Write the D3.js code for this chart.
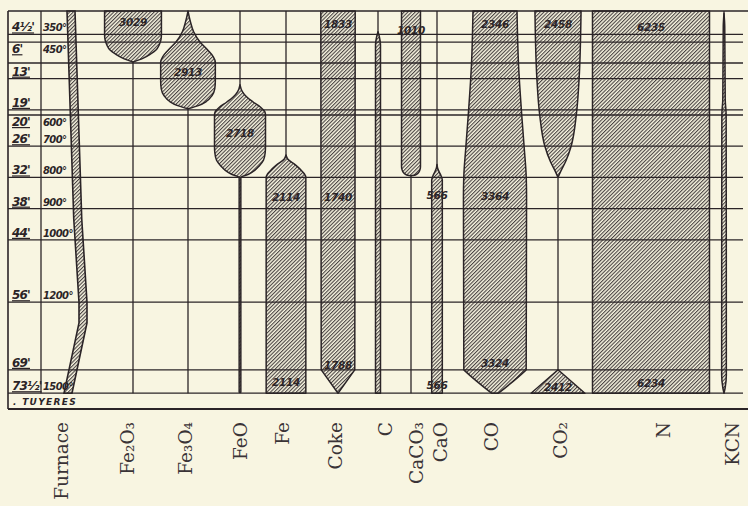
<!DOCTYPE html>
<html>
<head>
<meta charset="utf-8">
<script src="https://cdn.jsdelivr.net/npm/d3@7"></script>
<style>
  body { margin: 0; background: #f8f5e1; }
  svg { display: block; }
</style>
</head>
<body>
<svg id="chart" width="748" height="506"></svg>
<script>
// depth below the stock line (feet) and the temperatures written beside it
var depthTicks = [4.5, 6, 10, 13, 19, 20, 26, 32, 38, 44, 56, 69, 73.5];
var depthText  = ["4½'", "6'", "", "13'", "19'", "20'", "26'", "32'", "38'", "44'", "56'", "69'", "73½'"];
var tempText   = ["350°", "450°", "", "", "", "600°", "700°", "800°", "900°", "1000°", "1200°", "", "1500°"];

// column names along the bottom
var names = ["Furnace", "Fe₂O₃", "Fe₃O₄", "FeO", "Fe", "Coke", "C", "CaCO₃", "CaO", "CO", "CO₂", "N", "KCN"];

// furnace lining: [depth, diameter ft]
var furnace = [[0, 14], [40, 18.5], [56, 22], [60, 22], [73.5, 12]];

// weight of each substance along the depth: [depth, lbs]
var fe2o3 = [[0, 3029], [4.5, 3029], [5.5, 2980], [6.5, 2800], [7.5, 2450], [8.3, 1850], [9.1, 1050], [9.8, 0]];
var fe3o4 = [[0, 0], [2, 250], [4, 600], [6, 1300], [7.5, 2100], [8.8, 2700], [9.8, 2913], [13.5, 2913], [15, 2850], [16.3, 2550], [17.4, 1950], [18.2, 1100], [18.8, 0]];
var feo   = [[14.2, 0], [15.5, 250], [16.5, 700], [17.5, 1400], [18.5, 2200], [19.4, 2650], [20, 2718], [26, 2718], [27.3, 2680], [28.7, 2500], [29.8, 2050], [30.6, 1600], [31.4, 900], [32, 90], [73.3, 90]];
var fe    = [[27.7, 0], [28.5, 200], [29.6, 1000], [30.5, 1550], [31.3, 1950], [32, 2114], [73.5, 2114]];
var coke  = [[0, 1833], [69, 1788], [69.3, 1670], [73.5, 0]];
var carbon = [[4, 0], [5, 150], [6.5, 265], [73.5, 265]];
var caco3 = [[0, 1010], [29.9, 1010], [30.5, 960], [31, 830], [31.4, 590], [31.6, 350], [31.7, 0]];
var cao   = [[29.5, 0], [30.3, 80], [31, 250], [31.8, 450], [32.5, 566], [73.5, 566]];
var co    = [[0, 2346], [10, 2500], [20, 2850], [26, 3100], [32, 3330], [36, 3364], [69, 3324], [69.3, 3150], [73.5, 370]];
var co2   = [[0, 2458], [13, 2250], [20, 1950], [26, 1400], [29, 800], [30.8, 300], [32, 0]];
var co2Hearth = [[69, 0], [73.5, 2870]];
var nitrogen = [[0, 6235], [73.5, 6234]];
var kcn   = [[0.5, 0], [3, 80], [17, 130], [20, 230], [70, 250], [72.5, 120], [73.5, 0]];

// figures written inside the bands: [column, depth, value]
var figures = [
  ["Fe₂O₃", 2.1, "3029"], ["Fe₃O₄", 11.7, "2913"], ["FeO", 23.5, "2718"],
  ["Fe", 35.8, "2114"], ["Fe", 71.3, "2114"],
  ["Coke", 2.5, "1833"], ["Coke", 35.8, "1740"], ["Coke", 68.1, "1788"],
  ["CaCO₃", 3.6, "1010"], ["CaO", 35.4, "566"], ["CaO", 71.9, "566"],
  ["CO", 2.5, "2346"], ["CO", 35.6, "3364"], ["CO", 67.7, "3324"],
  ["CO₂", 2.5, "2458"], ["CO₂", 72.3, "2412"],
  ["N", 3.1, "6235"], ["N", 71.5, "6234"]
];

var ink = "#2b2427", paper = "#f8f5e1";

var svg = d3.select("#chart");
svg.append("rect").attr("width", 748).attr("height", 506).attr("fill", paper);

var y = d3.scaleLinear().domain([0, 73.5]).range([11, 393.2]);
var w = d3.scaleLinear().domain([0, 6235]).range([0, 117]);
var fx = d3.scaleLinear().domain([0, 22]).range([50, 83]);

// centre of each column
var colX = {"Fe₂O₃": 133, "Fe₃O₄": 188, "FeO": 240, "Fe": 286, "Coke": 338, "C": 378, "CaCO₃": 411,
  "CaO": 437, "CO": 495, "CO₂": 558, "N": 651, "KCN": 724};
// where the names are written
var labelX = {"Furnace": 62, "Fe₂O₃": 128, "Fe₃O₄": 186, "FeO": 241, "Fe": 283, "Coke": 336, "C": 386,
  "CaCO₃": 417, "CaO": 441, "CO": 492, "CO₂": 561, "N": 664, "KCN": 733};

var bands = [
  ["Fe₂O₃", fe2o3], ["Fe₃O₄", fe3o4], ["FeO", feo], ["Fe", fe], ["Coke", coke], ["C", carbon],
  ["CaCO₃", caco3], ["CaO", cao], ["CO", co], ["CO₂", co2], ["CO₂", co2Hearth], ["N", nitrogen], ["KCN", kcn]
];

var defs = svg.append("defs");
var pat = defs.append("pattern")
  .attr("id", "hatch")
  .attr("patternUnits", "userSpaceOnUse")
  .attr("width", 2.6).attr("height", 10)
  .attr("patternTransform", "rotate(45)");
pat.append("rect").attr("width", 2.6).attr("height", 10).attr("fill", paper);
pat.append("line").attr("x1", 0.6).attr("x2", 0.6).attr("y1", 0).attr("y2", 10)
  .attr("stroke", ink).attr("stroke-width", 0.95);

// centre lines of every column (they show where the band is empty)
svg.append("g").selectAll("line")
  .data(Object.keys(colX))
  .enter().append("line")
  .attr("x1", function(d) { return colX[d]; })
  .attr("x2", function(d) { return colX[d]; })
  .attr("y1", y(0)).attr("y2", y(73.5))
  .attr("stroke", ink).attr("stroke-width", 1.3);

// bands
var gb = svg.append("g");
bands.forEach(function(b) {
  var cx = colX[b[0]];
  var area = d3.area()
    .curve(d3.curveMonotoneY)
    .y(function(d) { return y(d[0]); })
    .x0(function(d) { return cx - w(d[1]) / 2; })
    .x1(function(d) { return cx + w(d[1]) / 2; });
  gb.append("path")
    .attr("d", area(b[1]))
    .attr("fill", "url(#hatch)")
    .attr("stroke", ink)
    .attr("stroke-width", 1.5)
    .attr("stroke-linejoin", "round");
});

// furnace lining
var lining = d3.area()
  .y(function(d) { return y(d[0]); })
  .x0(function(d) { return fx(d[1]) - 4; })
  .x1(function(d) { return fx(d[1]) + 4; });
svg.append("path")
  .attr("d", lining(furnace))
  .attr("fill", "url(#hatch)")
  .attr("stroke", ink)
  .attr("stroke-width", 1.6);

// horizontal rules
svg.append("g").selectAll("line")
  .data(depthTicks)
  .enter().append("line")
  .attr("x1", 8).attr("x2", 743)
  .attr("y1", function(d) { return y(d); })
  .attr("y2", function(d) { return y(d); })
  .attr("stroke", ink).attr("stroke-width", 1.3);

// frame
svg.append("line").attr("x1", 8).attr("x2", 748).attr("y1", y(0)).attr("y2", y(0))
  .attr("stroke", ink).attr("stroke-width", 1.6);
svg.append("line").attr("x1", 8).attr("x2", 8).attr("y1", y(0)).attr("y2", 409)
  .attr("stroke", ink).attr("stroke-width", 1.6);
svg.append("line").attr("x1", 41).attr("x2", 41).attr("y1", y(0)).attr("y2", y(73.5))
  .attr("stroke", ink).attr("stroke-width", 1.3);
svg.append("line").attr("x1", 8).attr("x2", 748).attr("y1", 409).attr("y2", 409)
  .attr("stroke", ink).attr("stroke-width", 2);

// depth and temperature labels
function labelY(i) {
  var yy = y(depthTicks[i]);
  if (i > 0 && yy - y(depthTicks[i - 1]) < 9) return yy + 11;
  return yy - 3;
}
svg.append("g").selectAll("text")
  .data(depthText)
  .enter().append("text")
  .attr("x", 12)
  .attr("y", function(d, i) { return labelY(i); })
  .attr("font-family", "DejaVu Sans")
  .attr("font-weight", "bold").attr("font-style", "italic")
  .attr("font-size", 12)
  .attr("letter-spacing", -0.8)
  .attr("text-decoration", "underline")
  .attr("fill", ink)
  .text(function(d) { return d; });

svg.append("g").selectAll("text")
  .data(tempText)
  .enter().append("text")
  .attr("x", 43)
  .attr("y", function(d, i) { return labelY(i); })
  .attr("font-family", "DejaVu Sans")
  .attr("font-weight", "bold").attr("font-style", "italic")
  .attr("font-size", 10)
  .attr("letter-spacing", -0.6)
  .attr("fill", ink)
  .text(function(d) { return d; });

// figures in the bands
svg.append("g").selectAll("text")
  .data(figures)
  .enter().append("text")
  .attr("x", function(d) { return colX[d[0]]; })
  .attr("y", function(d) { return y(d[1]) + 4; })
  .attr("text-anchor", "middle")
  .attr("font-family", "DejaVu Sans")
  .attr("font-weight", "bold").attr("font-style", "italic")
  .attr("font-size", 10.5)
  .attr("letter-spacing", -0.3)
  .attr("fill", ink)
  .text(function(d) { return d[2]; });

svg.append("text")
  .attr("x", 13).attr("y", 405)
  .attr("font-family", "DejaVu Sans")
  .attr("font-weight", "bold").attr("font-style", "italic")
  .attr("font-size", 9)
  .attr("letter-spacing", 1.3)
  .attr("fill", ink)
  .text(". TUYERES");

// column names
svg.append("g").selectAll("text")
  .data(names)
  .enter().append("text")
  .attr("transform", function(d) { return "translate(" + labelX[d] + ",422) rotate(-90)"; })
  .attr("dy", "0.35em")
  .attr("text-anchor", "end")
  .attr("font-family", "DejaVu Serif")
  .attr("font-size", 18.5)
  .attr("fill", "#3a3336")
  .text(function(d) { return d; });
</script>
</body>
</html>
